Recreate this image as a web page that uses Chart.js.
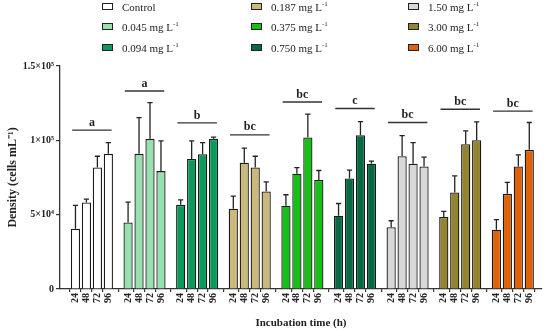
<!DOCTYPE html>
<html>
<head>
<meta charset="utf-8">
<script src="https://cdn.jsdelivr.net/npm/chart.js@4/dist/chart.umd.min.js"></script>
<style>
  html,body{margin:0;padding:0;background:#fff;}
  #wrap{position:relative;width:550px;height:332px;}
  #legend{position:absolute;left:0;top:0;width:550px;height:60px;font-family:"Liberation Serif",serif;font-size:11px;color:#222;}
  .li{position:absolute;height:14px;line-height:14px;white-space:nowrap;}
  .li .bx{position:absolute;left:0;top:3px;width:9px;height:5px;border:1.6px solid #222;}
  .li .tx{position:absolute;left:20px;top:0;}
  .li sup{font-size:7px;vertical-align:5px;line-height:0;}
</style>
</head>
<body>
<div id="wrap">
  <canvas id="c" width="550" height="332"></canvas>
  <div id="legend"></div>
</div>
<script>
// ---- data ----
const hours = ['24', '48', '72', '96'];
const treatments = ['Control', '0.045', '0.094', '0.187', '0.375', '0.750', '1.50', '3.00', '6.00'];
const colors = ['#ffffff', '#98e0b0', '#0c9a5c', '#c9b97a', '#16c016', '#086a42', '#d8d8d8', '#948432', '#e06208'];
const control = [40500, 58200, 81700, 90900];
const c0045 = [44800, 90900, 101000, 79300];
const c0094 = [56600, 87500, 90700, 101000];
const c0187 = [54000, 84900, 81700, 65600];
const c0375 = [56000, 77500, 101900, 73400];
const c0750 = [49300, 74300, 103400, 84200];
const c150 = [41600, 89300, 84200, 82400];
const c300 = [48400, 64900, 97400, 100100];
const c600 = [39900, 64000, 82400, 93600];
const sdControl = [15700, 2300, 7600, 7600];
const sd0045 = [13600, 24400, 24400, 20300];
const sd0094 = [3400, 12100, 7800, 1100];
const sd0187 = [8500, 9800, 7600, 6500];
const sd0375 = [7400, 4200, 15700, 6300];
const sd0750 = [8200, 5600, 9200, 1800];
const sd150 = [4300, 13900, 14300, 6300];
const sd300 = [3800, 11200, 9000, 12300];
const sd600 = [6700, 7700, 7800, 18400];
const sigLevels = [106800, 133200, 111700, 103700, 125800, 121400, 112000, 120900, 119600];
const sigLetters = ['a', 'a', 'b', 'bc', 'bc', 'c', 'bc', 'bc', 'bc'];
const yTickValues = [0, 50000, 100000, 150000];
const yTickLabels = ['0', '5×10⁴', '1×10⁵', '1.5×10⁵'];

const means = [control, c0045, c0094, c0187, c0375, c0750, c150, c300, c600];
const sds = [sdControl, sd0045, sd0094, sd0187, sd0375, sd0750, sd150, sd300, sd600];
const GROUP = 4.8; // slot pitch of a group, in bar units

const tickPos = [];
const tickLab = {};
treatments.forEach((t, g) => hours.forEach((h, i) => {
  const p = +(g * GROUP + i).toFixed(3);
  tickPos.push(p); tickLab[p] = h;
}));

const datasets = treatments.map((t, g) => ({
  label: t,
  data: hours.map((h, i) => ({x: +(g * GROUP + i).toFixed(3), y: means[g][i]})),
  errs: sds[g],
  backgroundColor: colors[g],
  borderColor: '#1a1a1a',
  borderWidth: 1.3,
  borderSkipped: 'bottom',
  grouped: false,
  barPercentage: 0.84,
  categoryPercentage: 1
}));

// ---- legend (HTML, column-major) ----
const legCols = [102, 251, 408];
const legRows = [0, 20, 41];
const leg = document.getElementById('legend');
treatments.forEach((t, g) => {
  const col = Math.floor(g / 3), row = g % 3;
  const d = document.createElement('div');
  d.className = 'li';
  d.style.left = legCols[col] + 'px';
  d.style.top = legRows[row] + 'px';
  const txt = t === 'Control' ? 'Control' : t + ' mg L<sup>-1</sup>';
  d.innerHTML = '<span class="bx" style="background:' + colors[g] + '"></span><span class="tx">' + txt + '</span>';
  leg.appendChild(d);
});

// ---- plugins ----
const errorBars = {
  id: 'errorBars',
  afterDatasetsDraw(chart) {
    const {ctx, scales: {y}} = chart;
    ctx.save();
    ctx.strokeStyle = '#222';
    ctx.lineWidth = 1.3;
    chart.data.datasets.forEach((ds, di) => {
      const meta = chart.getDatasetMeta(di);
      meta.data.forEach((bar, i) => {
        const v = ds.data[i].y, e = ds.errs[i];
        const yt = y.getPixelForValue(v), yc = y.getPixelForValue(v + e);
        ctx.beginPath();
        ctx.moveTo(bar.x, yt); ctx.lineTo(bar.x, yc);
        ctx.moveTo(bar.x - 2.6, yc); ctx.lineTo(bar.x + 2.6, yc);
        ctx.stroke();
      });
    });
    ctx.restore();
  }
};
const sigPlugin = {
  id: 'sig',
  afterDraw(chart) {
    const {ctx, scales: {x, y}} = chart;
    ctx.save();
    ctx.strokeStyle = '#333';
    ctx.fillStyle = '#222';
    ctx.lineWidth = 1.3;
    ctx.font = 'bold 12px "Liberation Serif", serif';
    ctx.textAlign = 'center';
    ctx.textBaseline = 'bottom';
    sigLevels.forEach((lv, g) => {
      const x1 = x.getPixelForValue(g * GROUP - 0.3), x2 = x.getPixelForValue(g * GROUP + 3.3);
      const yp = y.getPixelForValue(lv);
      ctx.beginPath(); ctx.moveTo(x1, yp); ctx.lineTo(x2, yp); ctx.stroke();
      ctx.fillText(sigLetters[g], (x1 + x2) / 2, yp - 1.5);
    });
    ctx.restore();
  }
};

Chart.defaults.font.family = '"Liberation Serif", serif';
Chart.defaults.color = '#222';

new Chart(document.getElementById('c'), {
  type: 'bar',
  data: {datasets},
  plugins: [errorBars, sigPlugin],
  options: {
    responsive: false,
    animation: false,
    devicePixelRatio: 1,
    layout: {padding: {top: 66, right: 8, left: 0, bottom: 0}},
    plugins: {legend: {display: false}, tooltip: {enabled: false}},
    scales: {
      x: {
        type: 'linear',
        min: -0.8,
        max: 41.95,
        afterBuildTicks(scale) { scale.ticks = tickPos.map(v => ({value: v})); },
        afterFit(scale) { scale.height = 43; },
        ticks: {
          autoSkip: false,
          minRotation: 90,
          maxRotation: 90,
          padding: 1,
          font: {size: 10, weight: 'bold'},
          color: '#222',
          callback: (v) => tickLab[+(+v).toFixed(3)] ?? ''
        },
        grid: {display: true, drawOnChartArea: false, drawTicks: true, tickLength: 3, color: '#333', lineWidth: 1.2},
        border: {display: true, color: '#333', width: 1.3},
        title: {display: true, text: 'Incubation time (h)', font: {size: 11, weight: 'bold'}, color: '#222', padding: {top: 0, bottom: 2}}
      },
      y: {
        min: 0,
        max: 150000,
        afterBuildTicks(scale) { scale.ticks = yTickValues.map(v => ({value: v})); },
        afterFit(scale) { scale.width = 60; },
        ticks: {
          padding: 2,
          font: {size: 10, weight: 'bold'},
          color: '#222',
          callback: (v) => yTickLabels[yTickValues.indexOf(v)]
        },
        grid: {display: true, drawOnChartArea: false, drawTicks: true, tickLength: 4, color: '#333', lineWidth: 1.2},
        border: {display: true, color: '#333', width: 1.3},
        title: {display: true, text: 'Density (cells mL⁻¹)', font: {size: 12, weight: 'bold'}, color: '#222', padding: {top: 6, bottom: 0}}
      }
    }
  }
});
</script>
</body>
</html>
